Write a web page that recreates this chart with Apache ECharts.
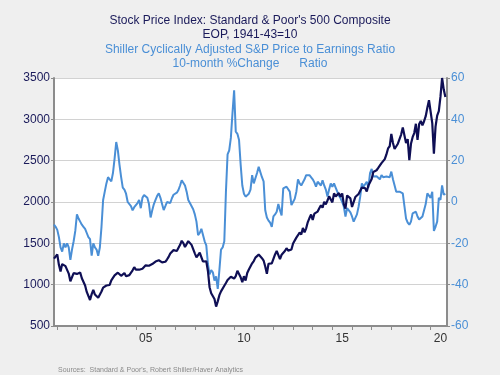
<!DOCTYPE html>
<html>
<head>
<meta charset="utf-8">
<script src="https://cdn.jsdelivr.net/npm/echarts@6/dist/echarts.min.js"></script>
<style>
  html, body { margin: 0; padding: 0; background: #efefef; }
  #chart { width: 500px; height: 375px; }
</style>
</head>
<body>
<div id="chart"></div>
<script>
// monthly, end of period, first point Nov 2000
const startYear = 2000;
const startMonth = 11;

// S&P 500 composite (left axis)
const spx = [
  1315, 1320,
  1366, 1240, 1160, 1249, 1256, 1224, 1211, 1134, 1041, 1060, 1139, 1148,
  1130, 1107, 1147, 1077, 1067, 990, 912, 916, 815, 886, 936, 880,
  856, 841, 848, 917, 964, 975, 990, 1008, 996, 1051, 1058, 1112,
  1131, 1145, 1126, 1107, 1121, 1141, 1102, 1104, 1115, 1130, 1174, 1212,
  1181, 1204, 1181, 1157, 1192, 1191, 1234, 1220, 1229, 1207, 1249, 1248,
  1280, 1281, 1295, 1311, 1270, 1270, 1277, 1304, 1336, 1378, 1401, 1418,
  1438, 1407, 1421, 1482, 1531, 1503, 1455, 1474, 1527, 1549, 1481, 1468,
  1379, 1331, 1323, 1386, 1400, 1280, 1267, 1283, 1166, 969, 896, 903,
  826, 735, 798, 873, 919, 919, 987, 1021, 1057, 1036, 1096, 1115,
  1074, 1104, 1169, 1187, 1089, 1031, 1102, 1049, 1141, 1183, 1181, 1258,
  1286, 1327, 1326, 1364, 1345, 1321, 1292, 1219, 1131, 1253, 1247, 1258,
  1312, 1366, 1408, 1398, 1310, 1362, 1379, 1407, 1441, 1412, 1416, 1426,
  1498, 1515, 1569, 1598, 1631, 1606, 1686, 1633, 1682, 1757, 1806, 1848,
  1783, 1859, 1872, 1884, 1924, 1960, 1931, 2003, 1972, 2018, 2068, 2059,
  1995, 2105, 2068, 2086, 2107, 2063, 2104, 1972, 1920, 2079, 2080, 2044,
  1940, 1932, 2060, 2065, 2097, 2099, 2174, 2171, 2168, 2126, 2199, 2239,
  2279, 2364, 2363, 2384, 2412, 2423, 2470, 2472, 2519, 2575, 2648, 2674,
  2824, 2714, 2641, 2648, 2705, 2718, 2816, 2902, 2914, 2712, 2760, 2507,
  2704, 2784, 2834, 2946, 2752, 2942, 2980, 2926, 2977, 3038, 3141, 3231,
  3226, 2954, 2585, 2912, 3044, 3100, 3271, 3500, 3363, 3270
];

// Shiller CAPE, 10-month % change (right axis)
const capeChg = [
  -11, -12,
  -13.5, -17, -22, -24, -20, -22, -20, -22, -28, -23, -19, -14,
  -6, -8, -9.5, -11, -12, -13, -15, -17, -18, -26, -20, -22,
  -23, -26, -22, -12, 1, 5, 9, 12, 11, 10, 14, 21,
  29, 25, 18, 12, 7, 6, 4, 0, -0.5, -2, -4, -2.5,
  -2.3, -0.5, 1, -3, 2, 3.4, 4.2, 2, -1, -7.5, -4, -1,
  1, 3, 4.2, 2, -1, -3.9, -2, 0, 0.5, -0.5, 1.8, 3.5,
  4, 4.5, 5.8, 8, 10.5, 11, 8, 5, 1, -0.5, 0, -3.5,
  -6, -9.5, -16, -15, -13, -12.7, -19, -21, -30, -35, -33, -34,
  -38, -36, -42, -33, -23, -22, -19, 5, 23, 25, 31, 43,
  54, 34, 33, 30, 18, 8, 4, 2.6, 3, 4, 6, 13,
  9, 9.5, 14, 17, 16.5, 12, 10, -4, -7.5, -9, -10, -12,
  -7, -6, -4.7, -1, -4, -6.5, 6.6, 7, 7.4, 7.5, 5, -1.5,
  0, 1.5, 5, 11, 9, 8, 8.5, 11, 13, 13.5, 13, 12.5,
  11, 9.5, 7.4, 9.8, 9, 8, 10.5, 8, 6, 2.6, 6, 9,
  7.4, 9, 7, 5, 3, 1.8, 0, -2.3, -7, -3, -2.3, -5,
  -7, -9.5, -10, -6, -2.3, 2.6, 9, 7.4, 8, 9.8, 7, 14,
  16, 12.3, 11.5, 12.5, 12, 11, 13, 12, 11.5, 12.3, 12, 12,
  14.7, 11, 8, 5, 5.5, 5, 4.5, 4.2, -2, -8, -10, -11,
  -9.5, -5.5, -4.7, -4.7, -7, -8.5, -8, -7, -4, -1, 4.2, 5,
  2, 5, -14, -12, -9.5, 2, 1, 8, 3.5, 4
];

const yearTicks = [];
for (let y = 2001; y <= 2020; y++) yearTicks.push(y);
const yearLabels = [2005, 2010, 2015, 2020];

const NAVY = '#0f0f55';
const BLUE = '#4a8fd6';

// month index -> decimal year
function t(i) { return startYear + (startMonth - 1 + i) / 12; }

const chart = echarts.init(document.getElementById('chart'));
chart.setOption({
  animation: false,
  backgroundColor: '#efefef',
  textStyle: { fontFamily: 'Liberation Sans, Arial, sans-serif' },
  title: [
    {
      text: "Stock Price Index: Standard & Poor's 500 Composite\nEOP, 1941-43=10",
      left: 'center', top: 9,
      textStyle: { fontSize: 12, fontWeight: 'normal', color: '#1a1a5a', lineHeight: 14, fontFamily: 'Liberation Sans' }
    },
    {
      text: 'Shiller Cyclically Adjusted S&P Price to Earnings Ratio\n10-month %Change      Ratio',
      left: 'center', top: 38,
      textStyle: { fontSize: 12, fontWeight: 'normal', color: BLUE, lineHeight: 14, fontFamily: 'Liberation Sans' }
    },
    {
      text: "Sources:  Standard & Poor's, Robert Shiller/Haver Analytics",
      left: 53, top: 362,
      textStyle: { fontSize: 7, fontWeight: 'normal', color: '#8a8a8a', fontFamily: 'Liberation Sans' }
    }
  ],
  grid: {
    left: 54, right: 53, top: 78, bottom: 49,
    show: true, backgroundColor: '#ffffff', borderWidth: 0
  },
  xAxis: {
    type: 'value',
    min: t(0), max: startYear + 20 + (startMonth - 1) / 12,
    axisLine: { show: true, onZero: false, lineStyle: { color: '#8c8c8c', width: 2 } },
    axisTick: { show: true, length: 4, customValues: yearTicks, lineStyle: { color: '#8c8c8c' } },
    axisLabel: {
      customValues: yearLabels.map(y => y + 0.5),
      formatter: v => String(Math.floor(v)).slice(2),
      color: '#333', fontSize: 12, margin: 7, fontFamily: 'Liberation Sans'
    },
    splitLine: { show: false }
  },
  yAxis: [
    {
      type: 'value', position: 'left',
      min: 500, max: 3500, interval: 500,
      axisLine: { show: true, lineStyle: { color: '#8c8c8c', width: 2 } },
      axisTick: { show: true, length: 3, lineStyle: { color: '#8c8c8c' } },
      axisLabel: { color: '#1a1a5a', fontSize: 12, margin: 4, fontFamily: 'Liberation Sans', formatter: v => String(v) },
      splitLine: { show: true, lineStyle: { color: '#d2d2d2', width: 1 } }
    },
    {
      type: 'value', position: 'right',
      min: -60, max: 60, interval: 20,
      axisLine: { show: true, lineStyle: { color: '#8c8c8c', width: 2 } },
      axisTick: { show: true, length: 3, lineStyle: { color: '#8c8c8c' } },
      axisLabel: { color: BLUE, fontSize: 12, margin: 4, fontFamily: 'Liberation Sans' },
      splitLine: { show: false }
    }
  ],
  series: [
    {
      name: 'CAPE 10-month %Change', type: 'line', yAxisIndex: 1,
      data: capeChg.map((v, i) => [t(i), v]),
      showSymbol: false, lineStyle: { color: BLUE, width: 2 }, z: 2
    },
    {
      name: 'S&P 500', type: 'line', yAxisIndex: 0,
      data: spx.map((v, i) => [t(i), v]),
      showSymbol: false, lineStyle: { color: NAVY, width: 2.2 }, z: 3
    }
  ]
});
</script>
</body>
</html>
